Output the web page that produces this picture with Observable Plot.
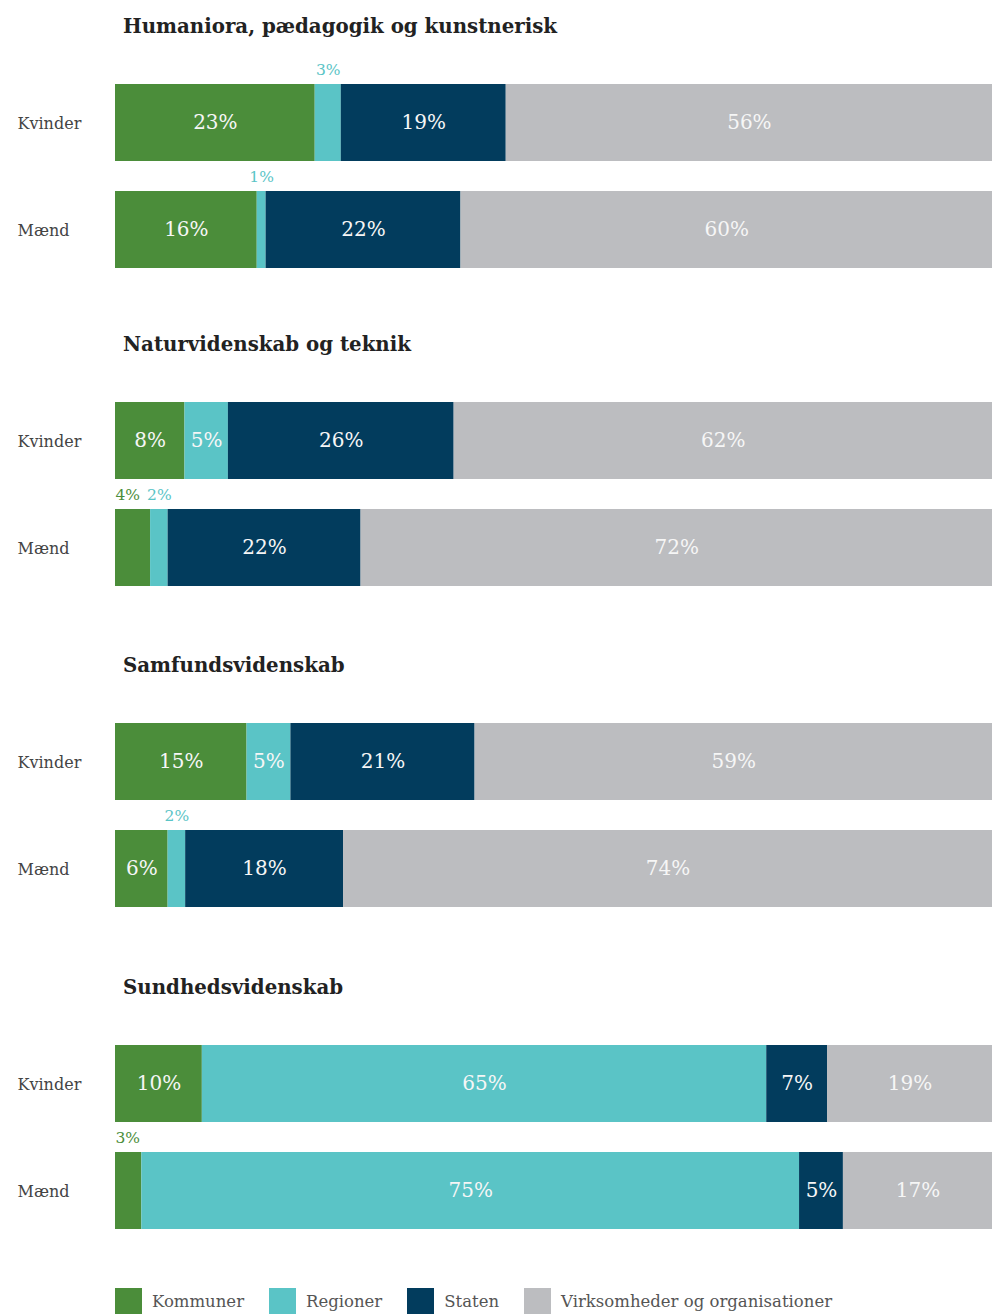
<!DOCTYPE html>
<html>
<head>
<meta charset="utf-8">
<script src="https://cdn.jsdelivr.net/npm/d3@7"></script>
<script src="https://cdn.jsdelivr.net/npm/@observablehq/plot@0.6"></script>
<style>
  html, body { margin: 0; padding: 0; background: #fff; width: 992px; height: 1314px; overflow: hidden; }
  body { font-family: "DejaVu Serif", serif; }
  .panel { width: 992px; height: 320px; }
  .panel:nth-child(1) { height: 318px; }
  .panel:nth-child(2) { height: 321px; }
  .panel:nth-child(3) { height: 322px; }
  .panel:nth-child(4) { height: 319px; }
  .title { height: 50px; line-height: 52px; padding-left: 123px; font-size: 19.8px; font-weight: bold; color: #222; white-space: nowrap; }
  .legend { display: flex; align-items: center; padding-left: 115px; margin-top: 7px; height: 28px; }
  .legend .item { display: flex; align-items: center; margin-right: 25px; }
  .legend .sw { width: 27px; height: 27px; margin-right: 10px; }
  .legend .lb { font-size: 16.5px; color: #555; }
</style>
</head>
<body>
<div id="chart"></div>
<script>
const sectors = ["Kommuner", "Regioner", "Staten", "Virksomheder og organisationer"];
const sectorColors = ["#4b8d3a", "#5ac4c6", "#023c5d", "#bcbdc0"];
const fields = ["Humaniora, pædagogik og kunstnerisk", "Naturvidenskab og teknik", "Samfundsvidenskab", "Sundhedsvidenskab"];
const genders = ["Kvinder", "Mænd"];
const kvinderValues = [
  [23, 3, 19, 56],
  [8, 5, 26, 62],
  [15, 5, 21, 59],
  [10, 65, 7, 19]
];
const maendValues = [
  [16, 1, 22, 60],
  [4, 2, 22, 72],
  [6, 2, 18, 74],
  [3, 75, 5, 17]
];

const root = document.getElementById("chart");

fields.forEach((field, fi) => {
  const rows = [];
  [kvinderValues, maendValues].forEach((vals, gi) => {
    vals[fi].forEach((v, si) => rows.push({gender: genders[gi], sector: sectors[si], value: v}));
  });

  const panel = document.createElement("div");
  panel.className = "panel";
  const t = document.createElement("div");
  t.className = "title";
  t.textContent = field;
  panel.appendChild(t);

  const stackOpts = {x: "value", y: "gender", z: "sector", offset: "normalize", order: sectors};
  const big = d => d.value >= 5 ? d.value + "%" : null;
  const smallGreen = d => d.value < 5 && d.sector === sectors[0] ? d.value + "%" : null;
  const smallOther = d => d.value < 5 && d.sector !== sectors[0] ? d.value + "%" : null;

  const plot = Plot.plot({
    width: 992,
    height: 270,
    marginLeft: 115,
    marginRight: 0,
    marginTop: 34,
    marginBottom: 52,
    style: {fontFamily: "DejaVu Serif, serif", background: "transparent"},
    x: {axis: null, domain: [0, 1]},
    y: {axis: null, domain: genders, paddingInner: 30 / 107, paddingOuter: 0},
    color: {domain: sectors, range: sectorColors},
    marks: [
      Plot.barX(rows, Plot.stackX({...stackOpts, fill: "sector"})),
      Plot.text(rows, Plot.stackX({...stackOpts, text: big, fill: "#f6f6f6", fontSize: 20, letterSpacing: 1})),
      Plot.text(rows, Plot.stackX({...stackOpts, text: smallOther, fill: "sector", fontSize: 15.5, dy: -53})),
      Plot.text(rows, Plot.stackX1({...stackOpts, text: smallGreen, fill: "sector", fontSize: 15.5, dy: -53, textAnchor: "start"})),
      Plot.text(genders, {y: d => d, text: d => d, frameAnchor: "left", textAnchor: "start", dx: -98, dy: 1, fontSize: 16, fill: "#444"})
    ]
  });
  panel.appendChild(plot);
  root.appendChild(panel);
});

const legend = document.createElement("div");
legend.className = "legend";
sectors.forEach((s, i) => {
  const item = document.createElement("div");
  item.className = "item";
  const sw = document.createElement("div");
  sw.className = "sw";
  sw.style.background = sectorColors[i];
  const lb = document.createElement("span");
  lb.className = "lb";
  lb.textContent = s;
  item.appendChild(sw);
  item.appendChild(lb);
  legend.appendChild(item);
});
root.appendChild(legend);
</script>
</body>
</html>
